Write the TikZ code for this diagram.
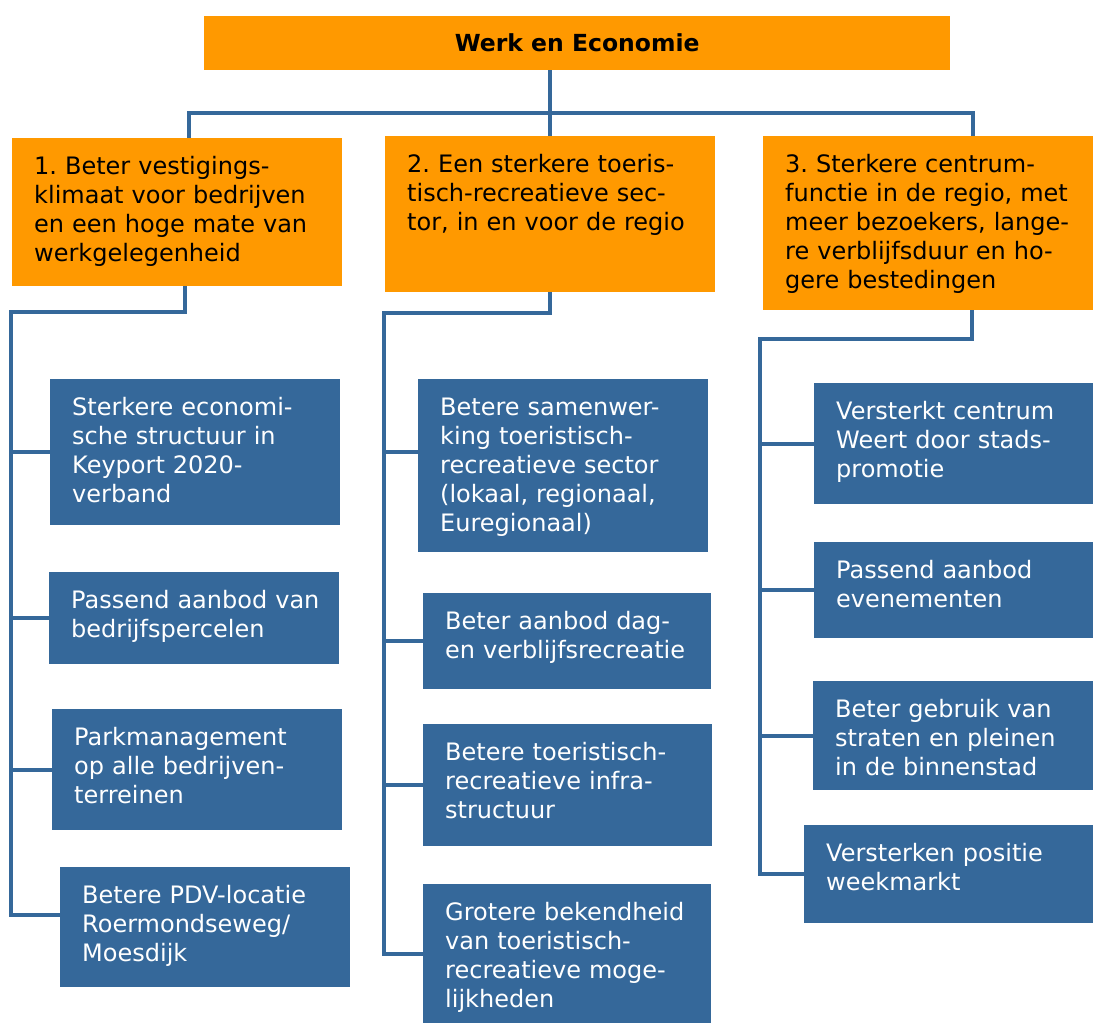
\documentclass[tikz,border=0pt]{standalone}
\usepackage{fontspec}
\setmainfont{DejaVu Sans}
\definecolor{oranje}{HTML}{FF9900}
\definecolor{blauw}{HTML}{35689A}

\begin{document}
\begin{tikzpicture}[x=1pt,y=-1pt,
        kader/.style 2 args={anchor=north west,inner sep=0pt,text width=#1,text height=36pt,text depth=#2,
            font=\fontsize{24}{29}\selectfont,execute at begin node={\frenchspacing\leftskip=22pt\rightskip=0pt plus 1fil}},
        doel/.style 2 args={kader={#1}{#2},fill=oranje,text=black},
        actie/.style 2 args={kader={#1}{#2},fill=blauw,text=white},
        lijn/.style={draw=blauw,line width=3.75pt}]
        \useasboundingbox(0,0)rectangle(1093,1023);

        \node[anchor=north west,fill=oranje,minimum width=746pt,minimum height=54pt,inner sep=0pt,
            font=\fontsize{23.5}{28}\selectfont\bfseries](titel)at(204,16){Werk en Economie};

        \node[doel={330pt}{112pt}](doel1)at(12,138){1. Beter vestigings-\\klimaat voor bedrijven\\en een hoge mate van\\werkgelegenheid};
        \node[doel={330pt}{120pt}](doel2)at(385,136){2. Een sterkere toeris-\\tisch-recreatieve sec-\\tor, in en voor de regio};
        \node[doel={330pt}{138pt}](doel3)at(763,136){3. Sterkere centrum-\\functie in de regio, met\\meer bezoekers, lange-\\re verblijfsduur en ho-\\gere bestedingen};

        \node[actie={290pt}{110pt}](a1)at(50,379){Sterkere economi-\\sche structuur in\\Keyport 2020-\\verband};
        \node[actie={290pt}{56pt}](a2)at(49,572){Passend aanbod van\\bedrijfspercelen};
        \node[actie={290pt}{85pt}](a3)at(52,709){Parkmanagement\\op alle bedrijven-\\terreinen};
        \node[actie={290pt}{84pt}](a4)at(60,867){Betere PDV-locatie\\Roermondseweg/\\Moesdijk};

        \node[actie={290pt}{137pt}](b1)at(418,379){Betere samenwer-\\king toeristisch-\\recreatieve sector\\(lokaal, regionaal,\\Euregionaal)};
        \node[actie={288pt}{60pt}](b2)at(423,593){Beter aanbod dag-\\en verblijfsrecreatie};
        \node[actie={289pt}{86pt}](b3)at(423,724){Betere toeristisch-\\recreatieve infra-\\structuur};
        \node[actie={288pt}{103pt}](b4)at(423,884){Grotere bekendheid\\van toeristisch-\\recreatieve moge-\\lijkheden};

        \node[actie={279pt}{85pt}](c1)at(814,383){Versterkt centrum\\Weert door stads-\\promotie};
        \node[actie={279pt}{60pt}](c2)at(814,542){Passend aanbod\\evenementen};
        \node[actie={280pt}{73pt}](c3)at(813,681){Beter gebruik van\\straten en pleinen\\in de binnenstad};
        \node[actie={289pt}{62pt}](c4)at(804,825){Versterken positie\\weekmarkt};

        \draw[lijn](titel.south-|doel2.north)--(doel2.north);
        \draw[lijn]([xshift=12pt]doel1.north)|-(551,113)-|([xshift=45pt]doel3.north);

        \coordinate(s1)at(11,312);
        \coordinate(s2)at(384,313);
        \coordinate(s3)at(760,339);
        \draw[lijn]([xshift=8pt]doel1.south)|-(s1)|-([yshift=12pt]a4.west);
        \draw[lijn](doel2.south)|-(s2)|-(b4.west);
        \draw[lijn]([xshift=44pt]doel3.south)|-(s3)|-(c4.west);
        \foreach \n in {a1,a2,a3}
            \draw[lijn](s1|-\n.west)--(\n.west);
        \draw[lijn]([yshift=14pt]b1.west-|s2)--([yshift=14pt]b1.west);
        \foreach \n in {b2,b3}
            \draw[lijn](s2|-\n.west)--(\n.west);
        \foreach \n in {c1,c2,c3}
            \draw[lijn](s3|-\n.west)--(\n.west);
    \end{tikzpicture}
\end{document}
